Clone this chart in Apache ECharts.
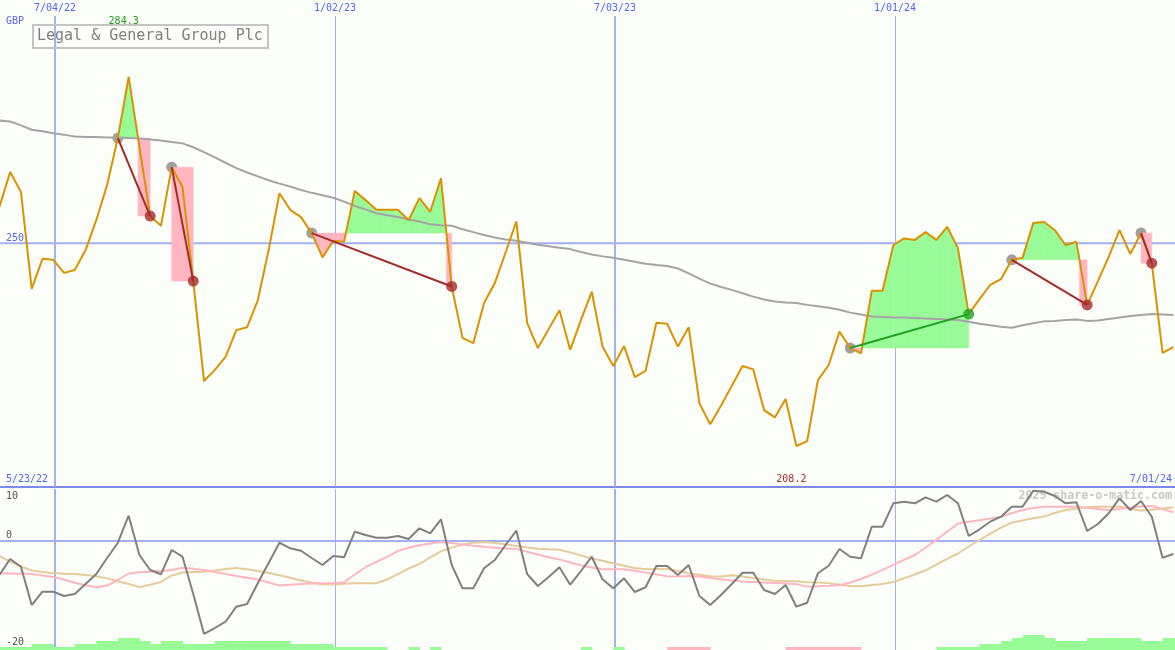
<!DOCTYPE html>
<html><head><meta charset="utf-8">
<script src="https://cdn.jsdelivr.net/npm/echarts@6.0.0/dist/echarts.min.js"></script>
<style>html,body{margin:0;padding:0;background:#fcfef9;}#chart{width:1175px;height:650px;}</style>
</head><body><div id="chart"></div>
<script>
// ---- data (weekly points, index 0..109) ----
const priceData = [257.5, 264.7, 260.6, 240.6, 246.8, 246.6, 243.9, 244.5, 248.6, 254.8,
 262.0, 271.7, 284.3, 269.9, 255.6, 253.6, 265.7, 261.6, 242.2, 221.6,
 223.9, 226.6, 232.1, 232.7, 238.3, 248.6, 260.3, 256.9, 255.4, 252.1,
 247.1, 250.5, 250.3, 260.8, 258.9, 256.9, 256.9, 256.9, 254.8, 259.3,
 256.5, 263.4, 241.1, 230.5, 229.4, 237.7, 241.8, 248.1, 254.5, 233.6,
 228.4, 232.3, 236.2, 228.0, 234.2, 240.0, 228.7, 224.7, 228.8, 222.4,
 223.7, 233.6, 233.4, 228.7, 232.7, 217.0, 212.7, 216.5, 220.6, 224.7,
 224.0, 215.6, 214.1, 217.9, 208.2, 209.2, 221.8, 224.9, 231.8, 228.4,
 227.3, 240.2, 240.2, 249.6, 251.0, 250.7, 252.3, 250.7, 253.4, 249.0,
 235.4, 238.5, 241.4, 242.6, 246.6, 247.0, 254.2, 254.4, 252.7, 249.6,
 250.3, 237.3, 242.2, 247.2, 252.7, 247.8, 252.1, 245.9, 227.4, 228.6];
const maData = [275.3, 275.1, 274.3, 273.4, 273.1, 272.7, 272.4, 272.0, 271.9, 271.9,
 271.8, 271.8, 271.7, 271.6, 271.4, 271.2, 270.9, 270.6, 269.8, 268.8,
 267.7, 266.6, 265.5, 264.6, 263.8, 263.0, 262.3, 261.7, 261.0, 260.4,
 259.9, 259.4, 258.6, 257.7, 257.0, 256.2, 255.8, 255.4, 254.9, 254.5,
 253.9, 253.7, 253.6, 252.9, 252.3, 251.7, 251.2, 250.8, 250.5, 250.1,
 249.7, 249.4, 249.1, 248.8, 248.2, 247.7, 247.3, 247.0, 246.6, 246.2,
 245.8, 245.5, 245.3, 244.8, 243.8, 242.7, 241.7, 241.0, 240.4, 239.7,
 239.0, 238.4, 238.0, 237.8, 237.7, 237.3, 237.0, 236.7, 236.3, 235.7,
 235.3, 234.9, 234.8, 234.7, 234.7, 234.6, 234.5, 234.4, 234.3, 234.2,
 233.8, 233.4, 233.1, 232.8, 232.6, 233.1, 233.5, 233.9, 234.0, 234.2,
 234.3, 234.0, 234.1, 234.4, 234.7, 235.0, 235.2, 235.4, 235.3, 235.2];
const oscData = [-6.54, -3.46, -4.94, -12.31, -9.75, -9.75, -10.58, -10.19, -8.27, -6.35,
 -3.27, -0.33, 4.87, -2.69, -5.58, -6.40, -1.73, -3.02, -10.19, -17.88,
 -16.73, -15.52, -12.63, -12.12, -8.08, -4.23, -0.33, -1.40, -1.87, -3.27,
 -4.62, -2.88, -3.13, 1.79, 1.15, 0.63, 0.63, 0.96, 0.38, 2.44,
 1.48, 4.17, -4.62, -9.10, -9.10, -5.25, -3.65, -0.77, 1.98, -6.35,
 -8.65, -6.92, -5.06, -8.40, -5.77, -3.02, -7.37, -9.10, -7.17, -9.81,
 -8.90, -4.81, -4.81, -6.54, -4.62, -10.58, -12.31, -10.38, -8.27, -6.10,
 -6.10, -9.42, -10.19, -8.46, -12.63, -11.87, -6.21, -4.75, -1.54, -3.02,
 -3.33, 2.75, 2.75, 7.25, 7.56, 7.25, 8.40, 7.56, 8.85, 7.25,
 0.96, 2.25, 3.71, 4.67, 6.60, 6.60, 9.67, 9.48, 8.65, 7.25,
 7.44, 1.92, 3.27, 5.33, 8.21, 5.96, 7.69, 4.67, -3.21, -2.50];
const oscPinkData = [-6.21,-6.25,-6.29,-6.35,-6.63,-6.92,-7.40,-8.04,-8.52,-8.88,
 -8.56,-7.50,-6.25,-6.00,-5.90,-5.77,-5.58,-5.15,-5.33,-5.58,
 -5.96,-6.35,-6.73,-7.08,-7.42,-7.98,-8.56,-8.42,-8.27,-8.19,
 -8.13,-8.13,-7.94,-6.44,-5.04,-4.00,-3.04,-1.92,-1.31,-0.81,
 -0.48,-0.19,-0.38,-0.65,-0.90,-1.10,-1.31,-1.42,-1.54,-2.06,
 -2.60,-3.12,-3.54,-4.15,-4.65,-5.10,-5.44,-5.44,-5.44,-5.71,
 -6.08,-6.42,-6.77,-6.81,-6.71,-6.83,-7.10,-7.35,-7.58,-7.81,
 -7.90,-8.00,-8.06,-8.17,-8.29,-8.77,-8.69,-8.60,-8.48,-7.98,
 -7.31,-6.46,-5.56,-4.58,-3.63,-2.69,-1.25,0.21,1.79,3.35,
 3.71,3.98,4.31,4.65,5.35,5.96,6.33,6.60,6.60,6.60,
 6.58,6.37,6.15,5.96,6.17,6.42,6.62,6.73,6.13,5.52];
const oscTanData = [-2.92,-3.94,-4.90,-5.67,-5.96,-6.15,-6.31,-6.35,-6.54,-6.77,
 -7.19,-7.73,-8.27,-8.87,-8.42,-7.88,-6.63,-6.06,-5.98,-5.92,
 -5.67,-5.37,-5.19,-5.44,-5.75,-6.15,-6.58,-7.06,-7.58,-7.98,
 -8.33,-8.37,-8.23,-8.13,-8.13,-8.13,-7.40,-6.35,-5.29,-4.42,
 -3.13,-1.98,-1.27,-0.67,-0.33,-0.17,-0.37,-0.65,-0.96,-1.23,
 -1.48,-1.60,-1.69,-2.19,-2.79,-3.35,-3.81,-4.29,-4.75,-5.21,
 -5.44,-5.40,-5.40,-5.77,-6.19,-6.50,-6.77,-6.81,-6.58,-6.83,
 -7.13,-7.42,-7.63,-7.67,-7.73,-7.92,-8.00,-8.10,-8.35,-8.65,
 -8.69,-8.46,-8.25,-7.88,-7.15,-6.44,-5.63,-4.52,-3.42,-2.40,
 -1.06,0.19,1.40,2.58,3.54,3.96,4.38,4.73,5.38,5.96,
 6.27,6.50,6.60,6.60,6.58,6.21,5.85,6.02,6.27,6.46];
const histLevels = [1,1,1,2,2,1,1,2,2,3,
 3,4,4,3,2,3,3,2,2,2,
 3,3,3,3,3,3,3,2,2,2,
 2,1,1,1,1,1,0,0,1,0,
 1,0,0,0,0,0,0,0,0,0,
 0,0,0,0,1,0,0,1,0,0,
 0,0,-1,-1,-1,-1,0,0,0,0,
 0,0,0,-1,-1,-1,-1,-1,-1,-1,
 0,0,0,0,0,0,0,1,1,1,
 1,2,2,3,4,5,5,4,3,3,
 3,4,4,4,4,4,3,3,4,4];
const tradeEntries = [11, 16, 29, 79, 94, 106];
const tradeExits   = [14, 18, 42, 90, 101, 107];
const dateLabels = ['7/04/22', '1/02/23', '7/03/23', '1/01/24'];
const dateWeeks  = [5.16, 31.16, 57.16, 83.16];
const startLabel = '5/23/22';
const endLabel = '7/01/24';
const currencyLabel = 'GBP';
const titleText = 'Legal & General Group Plc';
const priceTicks = [250];
const oscTicks = [10, 0, -20];
const oscLines = [0];
const watermark = '2025 share-o-matic.com';

// ---- layout / style ----
const X_MIN = 0.0557, X_MAX = 109.155;
const P_MIN = 199.75, P_MAX = 300.16;
const O_MIN = -20.96, O_MAX = 10;
const H_MAX = 53.67;
const C = {bg:'#fcfef9', grid:'#a3b1f2', axis:'#7b89ee', price:'#dc9200', ma:'#a4a4a4',
  up:'#98fb98', down:'#ffb6c1', loss:'#a52a2a', win:'#22a022', entry:'#888888',
  osc:'#808080', pink:'#ffb6c1', tan:'#e6cb9c', label:'#5566ee'};
const MONO = '"DejaVu Sans Mono", monospace';

const chart = echarts.init(document.getElementById('chart'));
const pairs = arr => arr.map((v, i) => [i, v]);

function vLines(g, topPad) {
  return {type:'custom', xAxisIndex:g, yAxisIndex:g, z:1, silent:true, clip:false,
    data: dateWeeks.map(w => [w, g === 0 ? 250 : 0]),
    renderItem(params, api) {
      const cs = params.coordSys;
      const x = api.coord([api.value(0), api.value(1)])[0];
      const w = params.dataIndex % 2 === 0 ? 2 : 1;
      const xx = w === 1 ? Math.round(x) + 0.5 : Math.round(x);
      return {type:'line', shape:{x1:xx, y1:cs.y + topPad, x2:xx, y2:cs.y + cs.height},
        style:{stroke:C.grid, lineWidth:w}};
    }};
}
function hLines(g, vals) {
  return {type:'custom', xAxisIndex:g, yAxisIndex:g, z:1, silent:true, clip:false,
    data: vals.map(v => [X_MIN, v]),
    renderItem(params, api) {
      const cs = params.coordSys;
      const y = api.coord([api.value(0), api.value(1)])[1];
      return {type:'line', shape:{x1:cs.x, y1:y, x2:cs.x + cs.width, y2:y},
        style:{stroke:C.grid, lineWidth:2}};
    }};
}
function buildFill(t, api) {
  const e = tradeEntries[t], x = tradeExits[t], L = priceData[e];
  const loss = priceData[x] < L;
  let cut = x;
  if (loss) {
    let k = x - 1;
    while (k > e && priceData[k] < L) k--;
    cut = (k > e) ? k + (priceData[k] - L) / (priceData[k] - priceData[k + 1]) : e;
  }
  const polys = [];
  for (let i = e; i < cut; i++) {
    const x0 = i, p0 = priceData[i];
    let x1 = i + 1, p1 = priceData[i + 1];
    if (x1 > cut) { x1 = cut; p1 = L; }
    const d0 = p0 - L, d1 = p1 - L;
    if (d0 >= 0 && d1 >= 0) polys.push([C.up, [[x0,L],[x0,p0],[x1,p1],[x1,L]]]);
    else if (d0 <= 0 && d1 <= 0) polys.push([C.down, [[x0,L],[x0,p0],[x1,p1],[x1,L]]]);
    else {
      const xc = x0 + d0 / (d0 - d1) * (x1 - x0);
      polys.push([d0 > 0 ? C.up : C.down, [[x0,L],[x0,p0],[xc,L]]]);
      polys.push([d1 > 0 ? C.up : C.down, [[xc,L],[x1,p1],[x1,L]]]);
    }
  }
  if (loss) polys.push([C.down, [[cut,L],[cut,priceData[x]],[x,priceData[x]],[x,L]]]);
  return polys.map(([c, pts]) => ({type:'polygon',
    shape:{points: pts.map(q => api.coord(q))}, style:{fill:c, stroke:c, lineWidth:0.5}}));
}

const option = {
  backgroundColor: C.bg,
  animation: false,
  grid: [
    {left:0, top:0, width:1175, height:487},
    {left:0, top:489, width:1175, height:161}
  ],
  xAxis: [
    {type:'value', gridIndex:0, min:X_MIN, max:X_MAX, position:'bottom',
      axisLine:{show:true, onZero:false, lineStyle:{color:C.axis, width:2}},
      axisTick:{show:false}, axisLabel:{show:false}, splitLine:{show:false}},
    {type:'value', gridIndex:1, min:X_MIN, max:X_MAX,
      axisLine:{show:false}, axisTick:{show:false}, axisLabel:{show:false}, splitLine:{show:false}}
  ],
  yAxis: [
    {type:'value', gridIndex:0, min:P_MIN, max:P_MAX, show:false},
    {type:'value', gridIndex:1, min:O_MIN, max:O_MAX, show:false},
    {type:'value', gridIndex:1, min:0, max:H_MAX, show:false}
  ],
  series: [
    vLines(0, 16), vLines(1, 0), hLines(0, priceTicks), hLines(1, oscLines),
    {type:'scatter', name:'entries', xAxisIndex:0, yAxisIndex:0, z:2, silent:true,
      symbolSize:11, itemStyle:{color:C.entry},
      data: tradeEntries.map(e => [e, priceData[e]])},
    {type:'custom', name:'fills', xAxisIndex:0, yAxisIndex:0, z:3, silent:true,
      data: tradeEntries.map((e, t) => [e, priceData[e], t]),
      renderItem(params, api) { return {type:'group', children: buildFill(api.value(2), api)}; }},
    {type:'line', name:'ma', xAxisIndex:0, yAxisIndex:0, z:4, silent:true, showSymbol:false,
      lineStyle:{color:C.ma, width:2}, data: pairs(maData)},
    {type:'line', name:'price', xAxisIndex:0, yAxisIndex:0, z:5, silent:true, showSymbol:false,
      lineStyle:{color:C.price, width:2}, data: pairs(priceData)},
    {type:'custom', name:'tradeLines', xAxisIndex:0, yAxisIndex:0, z:6, silent:true,
      data: tradeEntries.map((e, t) => [e, priceData[e], t]),
      renderItem(params, api) {
        const t = api.value(2), e = tradeEntries[t], x = tradeExits[t];
        const a = api.coord([e, priceData[e]]), b = api.coord([x, priceData[x]]);
        return {type:'line', shape:{x1:a[0], y1:a[1], x2:b[0], y2:b[1]},
          style:{stroke: priceData[x] >= priceData[e] ? C.win : C.loss, lineWidth:2}};
      }},
    {type:'scatter', name:'exits', xAxisIndex:0, yAxisIndex:0, z:7, silent:true, symbolSize:11,
      data: tradeExits.map((x, t) => ({value:[x, priceData[x]],
        itemStyle:{color: priceData[x] >= priceData[tradeEntries[t]] ? C.win : C.loss}}))},
    {type:'custom', name:'hist', xAxisIndex:1, yAxisIndex:2, z:2, silent:true,
      data: histLevels.map((v, i) => [i, v]),
      renderItem(params, api) {
        const i = api.value(0), v = api.value(1);
        if (!v) return null;
        const a = api.coord([i, 0]), b = api.coord([i + 1, Math.abs(v)]);
        return {type:'rect', shape:{x:a[0], y:b[1], width:b[0] - a[0] + 0.5, height:a[1] - b[1]},
          style:{fill: v > 0 ? C.up : C.down}};
      }},
    {type:'line', name:'oscTan', xAxisIndex:1, yAxisIndex:1, z:3, silent:true, showSymbol:false,
      lineStyle:{color:C.tan, width:2}, data: pairs(oscTanData)},
    {type:'line', name:'oscPink', xAxisIndex:1, yAxisIndex:1, z:4, silent:true, showSymbol:false,
      lineStyle:{color:C.pink, width:2}, data: pairs(oscPinkData)},
    {type:'line', name:'osc', xAxisIndex:1, yAxisIndex:1, z:5, silent:true, showSymbol:false,
      lineStyle:{color:C.osc, width:2}, data: pairs(oscData)}
  ]
};
chart.setOption(option);

// ---- texts positioned through the axes ----
const px = w => chart.convertToPixel({xAxisIndex:0}, w);
const pyP = v => chart.convertToPixel({yAxisIndex:0}, v);
const pyO = v => chart.convertToPixel({yAxisIndex:1}, v);
function txt(text, x, y, fill, font, align, z) {
  return {type:'text', x, y, z: z == null ? 100 : z, silent:true,
    style:{text, fill, font, align, verticalAlign:'middle', textAlign:align, textVerticalAlign:'middle'}};
}
const F10 = '10px ' + MONO;
let maxI = 0, minI = 0;
priceData.forEach((v, i) => { if (v > priceData[maxI]) maxI = i; if (v < priceData[minI]) minI = i; });
const g = [];
dateLabels.forEach((d, k) => g.push(txt(d, px(dateWeeks[k]), 8, C.label, F10, 'center')));
g.push(txt(currencyLabel, 6, 21, C.label, F10, 'left'));
priceTicks.forEach(v => g.push(txt(String(v), 6, pyP(v) - 5, C.label, F10, 'left')));
g.push(txt(priceData[maxI].toFixed(1), px(maxI) - 5, 21, C.win, F10, 'center'));
g.push(txt(priceData[minI].toFixed(1), px(minI) - 5, 479, C.loss, F10, 'center'));
g.push(txt(startLabel, 6, 479, C.label, F10, 'left'));
g.push(txt(endLabel, 1172, 479, C.label, F10, 'right'));
oscTicks.forEach(v => {
  const y = pyO(v);
  const yy = v === O_MAX ? y + 7 : (v === 0 ? y - 6 : y - 3);
  g.push(txt(String(v), 6, yy, '#555555', F10, 'left'));
});
g.push(txt(watermark, 1172, 496, '#c8c8c8', 'bold 11.6px ' + MONO, 'right', 0));
g.push({type:'rect', z:100, silent:true, shape:{x:33, y:25, width:235, height:23},
  style:{fill:'none', stroke:'#c4c4c4', lineWidth:2}});
g.push(txt(titleText, 37, 36.5, '#808080', '15px ' + MONO, 'left'));
chart.setOption({graphic: g});
</script>
</body></html>
